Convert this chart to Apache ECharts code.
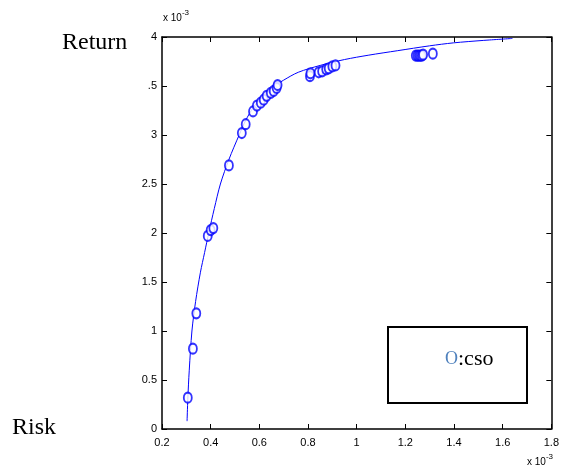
<!DOCTYPE html>
<html>
<head>
<meta charset="utf-8">
<script src="https://cdn.jsdelivr.net/npm/echarts@6/dist/echarts.min.js"></script>
<style>
    html, body { margin: 0; padding: 0; background: #fff; }
    #chart_01 { width: 562px; height: 473px; }
</style>
</head>
<body>
<div id="chart_01"></div>
<script>
// values in units of 1e-3
var riskPts = [0.306, 0.327, 0.341, 0.388, 0.400, 0.411, 0.475, 0.528, 0.544, 0.574, 0.590,
    0.606, 0.618, 0.630, 0.647, 0.659, 0.671, 0.675, 0.808, 0.810, 0.844, 0.858, 0.875,
    0.885, 0.900, 0.913, 1.243, 1.250, 1.256, 1.262, 1.268, 1.273, 1.313];
var returnPts = [0.32, 0.82, 1.18, 1.97, 2.03, 2.05, 2.69, 3.02, 3.11, 3.24, 3.30,
    3.33, 3.36, 3.40, 3.43, 3.45, 3.48, 3.51, 3.60, 3.63, 3.64, 3.65, 3.67,
    3.68, 3.70, 3.71, 3.81, 3.81, 3.81, 3.81, 3.81, 3.82, 3.83];

// frontier curve
var frontRisk = [0.303, 0.306, 0.312, 0.323, 0.338, 0.358, 0.375, 0.392, 0.415, 0.44, 0.475,
    0.517, 0.544, 0.575, 0.61, 0.65, 0.70, 0.76, 0.85, 0.95, 1.05, 1.167, 1.3, 1.397, 1.52, 1.64];
var frontReturn = [0.08, 0.3, 0.6, 1.0, 1.3, 1.6, 1.8, 2.0, 2.25, 2.5, 2.75,
    3.0, 3.15, 3.28, 3.39, 3.48, 3.56, 3.64, 3.71, 3.77, 3.815, 3.86, 3.91, 3.94, 3.965, 3.985];

var legendText = 'cso';

var myChart = echarts.init(document.getElementById('chart_01'));

function fmt(v) {
    return String(Math.round(v * 10) / 10);
}

var axisCommon = {
    type: 'value',
    axisLine: { show: true, onZero: false, lineStyle: { color: '#000', width: 1.5 } },
    axisTick: { show: true, inside: true, length: 5, lineStyle: { color: '#000' } },
    splitLine: { show: false }
};

var option = {
    animation: false,
    grid: { left: 162, right: 6, top: 37, bottom: 44 },
    xAxis: [
        Object.assign({}, axisCommon, {
            position: 'bottom', min: 0.2, max: 1.8, interval: 0.2,
            axisLabel: {
                color: '#000', fontFamily: 'Liberation Sans', fontSize: 11, margin: 8,
                formatter: fmt
            }
        }),
        Object.assign({}, axisCommon, {
            position: 'top', min: 0.2, max: 1.8, interval: 0.2,
            axisLabel: { show: false }
        })
    ],
    yAxis: [
        Object.assign({}, axisCommon, {
            position: 'left', min: 0, max: 4, interval: 0.5,
            axisLabel: {
                color: '#000', fontFamily: 'Liberation Sans', fontSize: 11, margin: 5,
                formatter: function (v) {
                    var s = fmt(v);
                    return s === '3.5' ? '.5' : s;
                }
            }
        }),
        Object.assign({}, axisCommon, {
            position: 'right', min: 0, max: 4, interval: 0.5,
            axisLabel: { show: false }
        })
    ],
    series: [
        {
            type: 'line',
            data: frontRisk.map(function (x, i) { return [x, frontReturn[i]]; }),
            smooth: 0.3,
            showSymbol: false,
            lineStyle: { color: '#0000ff', width: 1 },
            z: 2
        },
        {
            type: 'scatter',
            data: riskPts.map(function (x, i) { return [x, returnPts[i]]; }),
            symbol: 'emptyCircle',
            symbolSize: [8, 10],
            itemStyle: { color: '#0000ff', borderColor: '#0000ff', borderWidth: 1 },
            z: 3
        }
    ],
    graphic: [
        {
            type: 'text', left: 62, top: 31,
            style: { text: 'Return', font: '24px "Liberation Serif"', fill: '#000' }
        },
        {
            type: 'text', left: 12, top: 416,
            style: { text: 'Risk', font: '24px "Liberation Serif"', fill: '#000' }
        },
        {
            type: 'text', left: 163, top: 9,
            style: {
                text: '{a|x 10}{b|-3}',
                rich: {
                    a: { fontFamily: 'Liberation Sans', fontSize: 10, fill: '#000', verticalAlign: 'bottom' },
                    b: { fontFamily: 'Liberation Sans', fontSize: 8, fill: '#000', verticalAlign: 'top', padding: [0, 0, 6, 0] }
                }
            }
        },
        {
            type: 'text', left: 527, top: 453,
            style: {
                text: '{a|x 10}{b|-3}',
                rich: {
                    a: { fontFamily: 'Liberation Sans', fontSize: 10, fill: '#000', verticalAlign: 'bottom' },
                    b: { fontFamily: 'Liberation Sans', fontSize: 8, fill: '#000', verticalAlign: 'top', padding: [0, 0, 6, 0] }
                }
            }
        },
        {
            type: 'rect',
            shape: { x: 388, y: 327, width: 139, height: 76 },
            style: { fill: '#fff', stroke: '#000', lineWidth: 2 },
            z: 10
        },
        {
            type: 'text', left: 445, top: 348, z: 11,
            style: {
                text: '{o|O}{t|:' + legendText + '}',
                rich: {
                    o: { fontFamily: 'Liberation Serif', fontSize: 18, fill: '#4f81bd' },
                    t: { fontFamily: 'Liberation Serif', fontSize: 22, fill: '#000' }
                }
            }
        }
    ]
};

myChart.setOption(option);
window.addEventListener('resize', function () {
    myChart.resize();
});
</script>
</body>
</html>
